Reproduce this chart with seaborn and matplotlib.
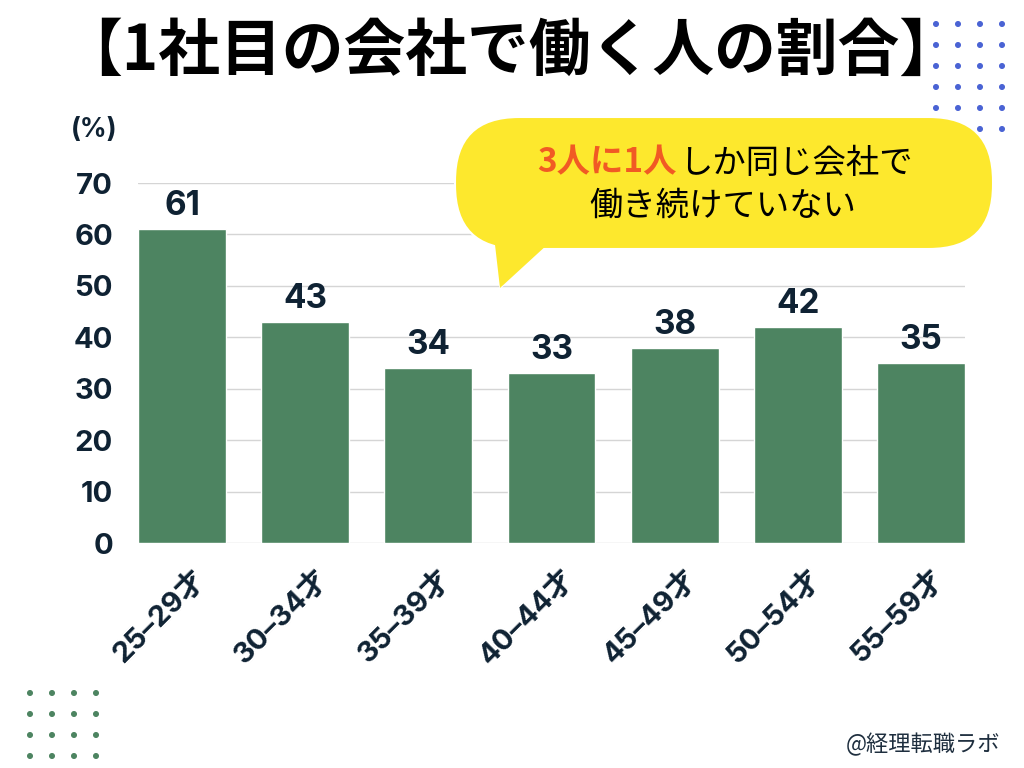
import matplotlib
matplotlib.use("Agg")
import matplotlib.pyplot as plt
import matplotlib.transforms as mtrans
import seaborn as sns
import pandas as pd
from matplotlib.patches import FancyBboxPatch, Polygon, Circle

categories = ["25–29才", "30–34才", "35–39才", "40–44才", "45–49才", "50–54才", "55–59才"]
values = [61, 43, 34, 33, 38, 42, 35]
yticks = [0, 10, 20, 30, 40, 50, 60, 70]
title = "【1社目の会社で働く人の割合】"
unit_label = "(%)"
callout_hi = "3人に1人"
callout_rest1 = "しか同じ会社で"
callout_line2 = "働き続けていない"
credit = "@経理転職ラボ"

sns.set_theme(style="white")
plt.rcParams['font.family'] = ['Inter', 'Noto Sans CJK JP', 'DejaVu Sans']

BAR = "#4d8461"
NAVY = "#0f2233"
CJK = ['Noto Sans CJK JP', 'DejaVu Sans']
NUM = ['Inter', 'Noto Sans CJK JP']

fig = plt.figure(figsize=(10.24, 7.68), dpi=100)
W, H = 1024, 768
ax = fig.add_axes([138 / W, 1 - 543 / H, (965 - 138) / W, (543 - 183) / H])

df = pd.DataFrame({"age": categories, "pct": values})
sns.barplot(data=df, x="age", y="pct", color=BAR, saturation=1, width=0.715, ax=ax, zorder=2)
ax.set_xlim(-0.36, 6.36)
ax.set_ylim(0, 70)
ax.set_yticks(yticks)
ax.yaxis.grid(True, color="#d5d5d5", linewidth=1, zorder=0)
ax.set_axisbelow(True)
for s in ax.spines.values():
    s.set_visible(False)
ax.set_xlabel("")
ax.set_ylabel("")
ax.tick_params(axis="both", length=0)
ax.tick_params(axis="y", pad=18)
for lab in ax.get_yticklabels():
    lab.set_fontfamily(NUM)
    lab.set_fontweight("bold")
    lab.set_fontsize(21)
    lab.set_color(NAVY)
ax.set_xticks(range(len(categories)))
ax.set_xticklabels(categories, rotation=45, ha="right", va="center", rotation_mode="anchor",
                   fontsize=21, fontweight="bold", color=NAVY, family=NUM)
ax.tick_params(axis="x", pad=0)
off = mtrans.ScaledTranslation(19 / 100, -31 / 100, fig.dpi_scale_trans)
for lab in ax.get_xticklabels():
    lab.set_transform(lab.get_transform() + off)

for c in ax.containers:
    ax.bar_label(c, labels=[str(v) for v in values], padding=5, fontsize=24,
                 fontweight="bold", color=NAVY, family=NUM)

# overlay for decorations in pixel coords
ov = fig.add_axes([0, 0, 1, 1], zorder=5)
ov.set_xlim(0, W)
ov.set_ylim(H, 0)
ov.axis("off")
ov.patch.set_alpha(0)

ov.text(511, 51, title, ha="center", va="center", fontsize=44.5,
        fontweight="bold", color="black", family=CJK)
ov.text(94, 130, unit_label, ha="center", va="center", fontsize=19,
        fontweight="bold", color=NAVY, family=NUM)

# blue dots top-right
for yy in [24, 45, 66, 87, 108, 129]:
    for xx in [936, 958, 980, 1002]:
        ov.add_patch(Circle((xx, yy), 2.3, color="#4a63d4", zorder=1))
# green dots bottom-left
for yy in [693, 714, 735, 756]:
    for xx in [30, 52, 74, 96]:
        ov.add_patch(Circle((xx, yy), 2.3, color=BAR, zorder=1))

# speech bubble
YEL = "#fde82d"
body = FancyBboxPatch((455, 117), 538, 132, boxstyle="round,pad=0,rounding_size=64",
                      facecolor=YEL, edgecolor="white", linewidth=1.5, zorder=3)
ov.add_patch(body)
tail = Polygon([(494, 236), (500, 288), (548, 244)], closed=True, facecolor=YEL,
               edgecolor="none", zorder=4)
ov.add_patch(tail)
ov.plot([497, 500, 545], [246, 288, 250], color="white", lw=1.2, zorder=3.9)

# callout text
fs = 24
t1 = ov.text(0, 163, callout_hi, ha="left", va="center", fontsize=fs, fontweight="bold",
             color="#f15a24", family=CJK, zorder=6)
t2 = ov.text(0, 163, callout_rest1, ha="left", va="center", fontsize=fs,
             color="black", family=CJK, zorder=6)
fig.canvas.draw()
w1 = t1.get_window_extent().width
w2 = t2.get_window_extent().width
gap = 2
total = w1 + gap + w2
x0 = 725 - total / 2
t1.set_x(x0)
t2.set_x(x0 + w1 + gap)
ov.text(723, 206, callout_line2, ha="center", va="center", fontsize=fs,
        color="black", family=CJK, zorder=6)

ov.text(1000, 745, credit, ha="right", va="center", fontsize=16,
        color="#1e2e3e", family=CJK)

fig.savefig("out.png", dpi=100, facecolor="white")
